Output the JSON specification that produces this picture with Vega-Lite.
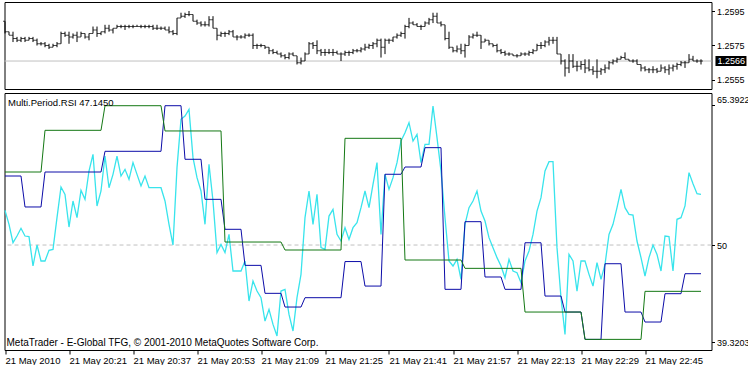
{
"$schema":"https://vega.github.io/schema/vega-lite/v6.json",
"padding":{"left":1.5,"top":1,"right":0,"bottom":0},
"background":"white",
"spacing":2,
"resolve":{"scale":{"x":"independent","y":"independent"}},
"config":{"view":{"stroke":"black","strokeWidth":1},"font":"Liberation Sans",
"axis":{"labelFont":"Liberation Sans","labelFontSize":9.5,"labelColor":"black","tickColor":"black","grid":false,"domain":false},
"text":{"font":"Liberation Sans","fontSize":9.5,"color":"black"}},
"data":{"values":[
{"time":"2010-05-21T20:05","open":1.2589,"high":1.2589,"low":1.2582,"close":1.2583,"rsi":53.82,"m5":57.60,"m15":58.04},
{"time":"2010-05-21T20:06","open":1.2583,"high":1.2583,"low":1.2581,"close":1.2581,"rsi":52.28,"m5":57.60,"m15":58.04},
{"time":"2010-05-21T20:07","open":1.2581,"high":1.2583,"low":1.2577,"close":1.2579,"rsi":50.26,"m5":57.60,"m15":58.04},
{"time":"2010-05-21T20:08","open":1.2579,"high":1.2580,"low":1.2577,"close":1.2578,"rsi":50.99,"m5":57.60,"m15":58.04},
{"time":"2010-05-21T20:09","open":1.2578,"high":1.2580,"low":1.2577,"close":1.2579,"rsi":51.84,"m5":57.60,"m15":58.04},
{"time":"2010-05-21T20:10","open":1.2579,"high":1.2580,"low":1.2577,"close":1.2578,"rsi":50.99,"m5":54.19,"m15":58.04},
{"time":"2010-05-21T20:11","open":1.2578,"high":1.2580,"low":1.2578,"close":1.2579,"rsi":50.92,"m5":54.19,"m15":58.04},
{"time":"2010-05-21T20:12","open":1.2579,"high":1.2580,"low":1.2577,"close":1.2578,"rsi":47.69,"m5":54.19,"m15":58.04},
{"time":"2010-05-21T20:13","open":1.2578,"high":1.2579,"low":1.2575,"close":1.2576,"rsi":50.00,"m5":54.19,"m15":58.04},
{"time":"2010-05-21T20:14","open":1.2576,"high":1.2577,"low":1.2575,"close":1.2576,"rsi":48.24,"m5":54.19,"m15":58.04},
{"time":"2010-05-21T20:15","open":1.2576,"high":1.2577,"low":1.2574,"close":1.2575,"rsi":48.24,"m5":58.04,"m15":62.63},
{"time":"2010-05-21T20:16","open":1.2575,"high":1.2576,"low":1.2573,"close":1.2574,"rsi":49.41,"m5":58.04,"m15":62.63},
{"time":"2010-05-21T20:17","open":1.2574,"high":1.2576,"low":1.2574,"close":1.2575,"rsi":49.52,"m5":58.04,"m15":62.63},
{"time":"2010-05-21T20:18","open":1.2575,"high":1.2577,"low":1.2574,"close":1.2576,"rsi":53.01,"m5":58.04,"m15":62.63},
{"time":"2010-05-21T20:19","open":1.2576,"high":1.2583,"low":1.2576,"close":1.2582,"rsi":56.39,"m5":58.04,"m15":62.63},
{"time":"2010-05-21T20:20","open":1.2582,"high":1.2583,"low":1.2580,"close":1.2581,"rsi":55.58,"m5":58.04,"m15":62.63},
{"time":"2010-05-21T20:21","open":1.2581,"high":1.2583,"low":1.2576,"close":1.2580,"rsi":51.98,"m5":58.04,"m15":62.63},
{"time":"2010-05-21T20:22","open":1.2580,"high":1.2582,"low":1.2579,"close":1.2581,"rsi":54.85,"m5":58.04,"m15":62.63},
{"time":"2010-05-21T20:23","open":1.2581,"high":1.2583,"low":1.2577,"close":1.2580,"rsi":53.01,"m5":58.04,"m15":62.63},
{"time":"2010-05-21T20:24","open":1.2580,"high":1.2583,"low":1.2580,"close":1.2582,"rsi":56.02,"m5":58.04,"m15":62.63},
{"time":"2010-05-21T20:25","open":1.2582,"high":1.2582,"low":1.2579,"close":1.2580,"rsi":55.03,"m5":58.04,"m15":62.63},
{"time":"2010-05-21T20:26","open":1.2580,"high":1.2582,"low":1.2578,"close":1.2582,"rsi":58.15,"m5":58.04,"m15":62.63},
{"time":"2010-05-21T20:27","open":1.2582,"high":1.2586,"low":1.2582,"close":1.2584,"rsi":59.99,"m5":58.04,"m15":62.63},
{"time":"2010-05-21T20:28","open":1.2584,"high":1.2586,"low":1.2580,"close":1.2582,"rsi":54.30,"m5":58.04,"m15":62.63},
{"time":"2010-05-21T20:29","open":1.2582,"high":1.2583,"low":1.2581,"close":1.2583,"rsi":55.95,"m5":58.04,"m15":62.63},
{"time":"2010-05-21T20:30","open":1.2583,"high":1.2587,"low":1.2582,"close":1.2585,"rsi":59.80,"m5":60.32,"m15":65.34},
{"time":"2010-05-21T20:31","open":1.2585,"high":1.2587,"low":1.2583,"close":1.2584,"rsi":56.31,"m5":60.32,"m15":65.34},
{"time":"2010-05-21T20:32","open":1.2584,"high":1.2585,"low":1.2582,"close":1.2585,"rsi":57.78,"m5":60.32,"m15":65.34},
{"time":"2010-05-21T20:33","open":1.2585,"high":1.2587,"low":1.2585,"close":1.2586,"rsi":59.80,"m5":60.32,"m15":65.34},
{"time":"2010-05-21T20:34","open":1.2586,"high":1.2587,"low":1.2585,"close":1.2586,"rsi":57.60,"m5":60.32,"m15":65.34},
{"time":"2010-05-21T20:35","open":1.2586,"high":1.2587,"low":1.2584,"close":1.2586,"rsi":58.33,"m5":60.32,"m15":65.34},
{"time":"2010-05-21T20:36","open":1.2586,"high":1.2587,"low":1.2585,"close":1.2586,"rsi":57.23,"m5":60.32,"m15":65.34},
{"time":"2010-05-21T20:37","open":1.2586,"high":1.2587,"low":1.2585,"close":1.2586,"rsi":59.07,"m5":60.32,"m15":65.34},
{"time":"2010-05-21T20:38","open":1.2586,"high":1.2587,"low":1.2586,"close":1.2586,"rsi":57.78,"m5":60.32,"m15":65.34},
{"time":"2010-05-21T20:39","open":1.2586,"high":1.2587,"low":1.2585,"close":1.2586,"rsi":56.50,"m5":60.32,"m15":65.34},
{"time":"2010-05-21T20:40","open":1.2586,"high":1.2587,"low":1.2585,"close":1.2586,"rsi":57.60,"m5":60.32,"m15":65.34},
{"time":"2010-05-21T20:41","open":1.2586,"high":1.2587,"low":1.2585,"close":1.2586,"rsi":56.31,"m5":60.32,"m15":65.34},
{"time":"2010-05-21T20:42","open":1.2586,"high":1.2587,"low":1.2584,"close":1.2585,"rsi":56.31,"m5":60.32,"m15":65.34},
{"time":"2010-05-21T20:43","open":1.2585,"high":1.2587,"low":1.2584,"close":1.2585,"rsi":56.31,"m5":60.32,"m15":65.34},
{"time":"2010-05-21T20:44","open":1.2585,"high":1.2586,"low":1.2584,"close":1.2585,"rsi":56.31,"m5":60.32,"m15":65.34},
{"time":"2010-05-21T20:45","open":1.2585,"high":1.2586,"low":1.2584,"close":1.2584,"rsi":54.85,"m5":65.34,"m15":62.56},
{"time":"2010-05-21T20:46","open":1.2584,"high":1.2586,"low":1.2582,"close":1.2583,"rsi":52.28,"m5":65.34,"m15":62.56},
{"time":"2010-05-21T20:47","open":1.2583,"high":1.2584,"low":1.2581,"close":1.2582,"rsi":50.00,"m5":65.34,"m15":62.56},
{"time":"2010-05-21T20:48","open":1.2582,"high":1.2591,"low":1.2581,"close":1.2591,"rsi":58.52,"m5":65.34,"m15":62.56},
{"time":"2010-05-21T20:49","open":1.2591,"high":1.2594,"low":1.2591,"close":1.2592,"rsi":63.84,"m5":65.34,"m15":62.56},
{"time":"2010-05-21T20:50","open":1.2592,"high":1.2594,"low":1.2591,"close":1.2593,"rsi":64.21,"m5":59.44,"m15":62.56},
{"time":"2010-05-21T20:51","open":1.2593,"high":1.2595,"low":1.2592,"close":1.2593,"rsi":64.94,"m5":59.44,"m15":62.56},
{"time":"2010-05-21T20:52","open":1.2593,"high":1.2593,"low":1.2589,"close":1.2589,"rsi":59.62,"m5":59.44,"m15":62.56},
{"time":"2010-05-21T20:53","open":1.2589,"high":1.2590,"low":1.2587,"close":1.2588,"rsi":57.42,"m5":59.44,"m15":62.56},
{"time":"2010-05-21T20:54","open":1.2588,"high":1.2589,"low":1.2586,"close":1.2587,"rsi":55.95,"m5":59.44,"m15":62.56},
{"time":"2010-05-21T20:55","open":1.2587,"high":1.2589,"low":1.2586,"close":1.2587,"rsi":52.28,"m5":55.03,"m15":62.56},
{"time":"2010-05-21T20:56","open":1.2587,"high":1.2592,"low":1.2586,"close":1.2590,"rsi":58.88,"m5":55.03,"m15":62.56},
{"time":"2010-05-21T20:57","open":1.2590,"high":1.2592,"low":1.2585,"close":1.2585,"rsi":54.85,"m5":55.03,"m15":62.56},
{"time":"2010-05-21T20:58","open":1.2585,"high":1.2585,"low":1.2578,"close":1.2581,"rsi":49.16,"m5":55.03,"m15":62.56},
{"time":"2010-05-21T20:59","open":1.2581,"high":1.2583,"low":1.2580,"close":1.2582,"rsi":50.07,"m5":55.03,"m15":62.56},
{"time":"2010-05-21T21:00","open":1.2582,"high":1.2583,"low":1.2580,"close":1.2582,"rsi":49.16,"m5":51.73,"m15":50.33},
{"time":"2010-05-21T21:01","open":1.2582,"high":1.2584,"low":1.2581,"close":1.2583,"rsi":51.17,"m5":51.73,"m15":50.33},
{"time":"2010-05-21T21:02","open":1.2583,"high":1.2584,"low":1.2580,"close":1.2580,"rsi":47.14,"m5":51.73,"m15":50.33},
{"time":"2010-05-21T21:03","open":1.2580,"high":1.2581,"low":1.2578,"close":1.2580,"rsi":47.14,"m5":51.73,"m15":50.33},
{"time":"2010-05-21T21:04","open":1.2580,"high":1.2581,"low":1.2579,"close":1.2580,"rsi":47.14,"m5":51.73,"m15":50.33},
{"time":"2010-05-21T21:05","open":1.2580,"high":1.2582,"low":1.2579,"close":1.2581,"rsi":48.24,"m5":47.76,"m15":50.33},
{"time":"2010-05-21T21:06","open":1.2581,"high":1.2582,"low":1.2580,"close":1.2581,"rsi":43.83,"m5":47.76,"m15":50.33},
{"time":"2010-05-21T21:07","open":1.2581,"high":1.2582,"low":1.2573,"close":1.2575,"rsi":46.04,"m5":47.76,"m15":50.33},
{"time":"2010-05-21T21:08","open":1.2575,"high":1.2576,"low":1.2573,"close":1.2575,"rsi":44.93,"m5":47.76,"m15":50.33},
{"time":"2010-05-21T21:09","open":1.2575,"high":1.2576,"low":1.2574,"close":1.2575,"rsi":44.20,"m5":47.76,"m15":50.33},
{"time":"2010-05-21T21:10","open":1.2575,"high":1.2575,"low":1.2573,"close":1.2574,"rsi":41.63,"m5":44.68,"m15":50.33},
{"time":"2010-05-21T21:11","open":1.2574,"high":1.2574,"low":1.2570,"close":1.2572,"rsi":42.91,"m5":44.68,"m15":50.33},
{"time":"2010-05-21T21:12","open":1.2572,"high":1.2573,"low":1.2570,"close":1.2571,"rsi":41.26,"m5":44.68,"m15":50.33},
{"time":"2010-05-21T21:13","open":1.2571,"high":1.2572,"low":1.2570,"close":1.2570,"rsi":39.98,"m5":44.68,"m15":50.33},
{"time":"2010-05-21T21:14","open":1.2570,"high":1.2571,"low":1.2568,"close":1.2569,"rsi":44.93,"m5":44.68,"m15":50.33},
{"time":"2010-05-21T21:15","open":1.2569,"high":1.2570,"low":1.2567,"close":1.2568,"rsi":45.12,"m5":43.17,"m15":49.45},
{"time":"2010-05-21T21:16","open":1.2568,"high":1.2571,"low":1.2567,"close":1.2570,"rsi":42.36,"m5":43.17,"m15":49.45},
{"time":"2010-05-21T21:17","open":1.2570,"high":1.2571,"low":1.2569,"close":1.2569,"rsi":40.53,"m5":43.17,"m15":49.45},
{"time":"2010-05-21T21:18","open":1.2569,"high":1.2569,"low":1.2564,"close":1.2565,"rsi":44.20,"m5":43.17,"m15":49.45},
{"time":"2010-05-21T21:19","open":1.2565,"high":1.2568,"low":1.2564,"close":1.2566,"rsi":46.77,"m5":43.17,"m15":49.45},
{"time":"2010-05-21T21:20","open":1.2566,"high":1.2571,"low":1.2566,"close":1.2570,"rsi":53.01,"m5":44.20,"m15":49.45},
{"time":"2010-05-21T21:21","open":1.2570,"high":1.2577,"low":1.2570,"close":1.2576,"rsi":55.95,"m5":44.20,"m15":49.45},
{"time":"2010-05-21T21:22","open":1.2576,"high":1.2577,"low":1.2573,"close":1.2575,"rsi":52.28,"m5":44.20,"m15":49.45},
{"time":"2010-05-21T21:23","open":1.2575,"high":1.2578,"low":1.2570,"close":1.2572,"rsi":55.58,"m5":44.20,"m15":49.45},
{"time":"2010-05-21T21:24","open":1.2572,"high":1.2573,"low":1.2569,"close":1.2571,"rsi":49.71,"m5":44.20,"m15":49.45},
{"time":"2010-05-21T21:25","open":1.2571,"high":1.2573,"low":1.2569,"close":1.2571,"rsi":49.52,"m5":44.20,"m15":49.45},
{"time":"2010-05-21T21:26","open":1.2571,"high":1.2573,"low":1.2570,"close":1.2571,"rsi":53.19,"m5":44.20,"m15":49.45},
{"time":"2010-05-21T21:27","open":1.2571,"high":1.2573,"low":1.2569,"close":1.2571,"rsi":53.93,"m5":44.20,"m15":49.45},
{"time":"2010-05-21T21:28","open":1.2571,"high":1.2572,"low":1.2570,"close":1.2570,"rsi":51.17,"m5":44.20,"m15":49.45},
{"time":"2010-05-21T21:29","open":1.2570,"high":1.2571,"low":1.2566,"close":1.2570,"rsi":50.44,"m5":44.20,"m15":49.45},
{"time":"2010-05-21T21:30","open":1.2570,"high":1.2572,"low":1.2569,"close":1.2571,"rsi":51.91,"m5":48.18,"m15":61.75},
{"time":"2010-05-21T21:31","open":1.2571,"high":1.2572,"low":1.2569,"close":1.2571,"rsi":50.62,"m5":48.18,"m15":61.75},
{"time":"2010-05-21T21:32","open":1.2571,"high":1.2573,"low":1.2570,"close":1.2572,"rsi":51.91,"m5":48.18,"m15":61.75},
{"time":"2010-05-21T21:33","open":1.2572,"high":1.2573,"low":1.2571,"close":1.2572,"rsi":52.46,"m5":48.18,"m15":61.75},
{"time":"2010-05-21T21:34","open":1.2572,"high":1.2574,"low":1.2571,"close":1.2573,"rsi":54.11,"m5":48.18,"m15":61.75},
{"time":"2010-05-21T21:35","open":1.2573,"high":1.2576,"low":1.2572,"close":1.2574,"rsi":55.95,"m5":45.48,"m15":61.75},
{"time":"2010-05-21T21:36","open":1.2574,"high":1.2576,"low":1.2573,"close":1.2575,"rsi":54.11,"m5":45.48,"m15":61.75},
{"time":"2010-05-21T21:37","open":1.2575,"high":1.2577,"low":1.2573,"close":1.2576,"rsi":56.68,"m5":45.48,"m15":61.75},
{"time":"2010-05-21T21:38","open":1.2576,"high":1.2579,"low":1.2574,"close":1.2578,"rsi":59.07,"m5":45.48,"m15":61.75},
{"time":"2010-05-21T21:39","open":1.2578,"high":1.2579,"low":1.2568,"close":1.2574,"rsi":51.17,"m5":45.48,"m15":61.75},
{"time":"2010-05-21T21:40","open":1.2574,"high":1.2579,"low":1.2570,"close":1.2578,"rsi":57.78,"m5":57.79,"m15":61.75},
{"time":"2010-05-21T21:41","open":1.2578,"high":1.2579,"low":1.2576,"close":1.2578,"rsi":56.13,"m5":57.79,"m15":61.75},
{"time":"2010-05-21T21:42","open":1.2578,"high":1.2580,"low":1.2577,"close":1.2580,"rsi":57.42,"m5":57.79,"m15":61.75},
{"time":"2010-05-21T21:43","open":1.2580,"high":1.2582,"low":1.2579,"close":1.2581,"rsi":59.07,"m5":57.79,"m15":61.75},
{"time":"2010-05-21T21:44","open":1.2581,"high":1.2583,"low":1.2580,"close":1.2582,"rsi":61.45,"m5":57.79,"m15":61.75},
{"time":"2010-05-21T21:45","open":1.2582,"high":1.2587,"low":1.2579,"close":1.2586,"rsi":62.37,"m5":58.59,"m15":48.35},
{"time":"2010-05-21T21:46","open":1.2586,"high":1.2591,"low":1.2585,"close":1.2588,"rsi":63.47,"m5":58.59,"m15":48.35},
{"time":"2010-05-21T21:47","open":1.2588,"high":1.2589,"low":1.2587,"close":1.2587,"rsi":61.45,"m5":58.59,"m15":48.35},
{"time":"2010-05-21T21:48","open":1.2587,"high":1.2588,"low":1.2586,"close":1.2586,"rsi":62.19,"m5":58.59,"m15":48.35},
{"time":"2010-05-21T21:49","open":1.2586,"high":1.2587,"low":1.2584,"close":1.2586,"rsi":59.07,"m5":58.59,"m15":48.35},
{"time":"2010-05-21T21:50","open":1.2586,"high":1.2589,"low":1.2586,"close":1.2588,"rsi":61.09,"m5":60.72,"m15":48.35},
{"time":"2010-05-21T21:51","open":1.2588,"high":1.2591,"low":1.2587,"close":1.2590,"rsi":61.09,"m5":60.72,"m15":48.35},
{"time":"2010-05-21T21:52","open":1.2590,"high":1.2594,"low":1.2588,"close":1.2592,"rsi":65.31,"m5":60.72,"m15":48.35},
{"time":"2010-05-21T21:53","open":1.2592,"high":1.2594,"low":1.2588,"close":1.2588,"rsi":61.82,"m5":60.72,"m15":48.35},
{"time":"2010-05-21T21:54","open":1.2588,"high":1.2589,"low":1.2586,"close":1.2587,"rsi":58.15,"m5":60.72,"m15":48.35},
{"time":"2010-05-21T21:55","open":1.2587,"high":1.2587,"low":1.2578,"close":1.2579,"rsi":53.01,"m5":45.12,"m15":48.35},
{"time":"2010-05-21T21:56","open":1.2579,"high":1.2583,"low":1.2573,"close":1.2574,"rsi":48.24,"m5":45.12,"m15":48.35},
{"time":"2010-05-21T21:57","open":1.2574,"high":1.2574,"low":1.2571,"close":1.2572,"rsi":47.69,"m5":45.12,"m15":48.35},
{"time":"2010-05-21T21:58","open":1.2572,"high":1.2575,"low":1.2571,"close":1.2573,"rsi":48.42,"m5":45.12,"m15":48.35},
{"time":"2010-05-21T21:59","open":1.2573,"high":1.2576,"low":1.2570,"close":1.2572,"rsi":46.22,"m5":45.12,"m15":48.35},
{"time":"2010-05-21T22:00","open":1.2572,"high":1.2576,"low":1.2568,"close":1.2575,"rsi":52.28,"m5":52.57,"m15":47.43},
{"time":"2010-05-21T22:01","open":1.2575,"high":1.2581,"low":1.2575,"close":1.2580,"rsi":54.11,"m5":52.57,"m15":47.43},
{"time":"2010-05-21T22:02","open":1.2580,"high":1.2582,"low":1.2579,"close":1.2581,"rsi":54.85,"m5":52.57,"m15":47.43},
{"time":"2010-05-21T22:03","open":1.2581,"high":1.2583,"low":1.2580,"close":1.2581,"rsi":55.95,"m5":52.57,"m15":47.43},
{"time":"2010-05-21T22:04","open":1.2581,"high":1.2581,"low":1.2573,"close":1.2577,"rsi":53.74,"m5":52.57,"m15":47.43},
{"time":"2010-05-21T22:05","open":1.2577,"high":1.2579,"low":1.2577,"close":1.2578,"rsi":52.64,"m5":46.48,"m15":47.43},
{"time":"2010-05-21T22:06","open":1.2578,"high":1.2578,"low":1.2575,"close":1.2576,"rsi":50.81,"m5":46.48,"m15":47.43},
{"time":"2010-05-21T22:07","open":1.2576,"high":1.2576,"low":1.2574,"close":1.2575,"rsi":49.71,"m5":46.48,"m15":47.43},
{"time":"2010-05-21T22:08","open":1.2575,"high":1.2576,"low":1.2571,"close":1.2572,"rsi":48.61,"m5":46.48,"m15":47.43},
{"time":"2010-05-21T22:09","open":1.2572,"high":1.2573,"low":1.2570,"close":1.2571,"rsi":47.69,"m5":46.48,"m15":47.43},
{"time":"2010-05-21T22:10","open":1.2571,"high":1.2572,"low":1.2569,"close":1.2570,"rsi":46.40,"m5":45.12,"m15":47.43},
{"time":"2010-05-21T22:11","open":1.2570,"high":1.2571,"low":1.2569,"close":1.2570,"rsi":48.42,"m5":45.12,"m15":47.43},
{"time":"2010-05-21T22:12","open":1.2570,"high":1.2570,"low":1.2569,"close":1.2569,"rsi":47.14,"m5":45.12,"m15":47.43},
{"time":"2010-05-21T22:13","open":1.2569,"high":1.2570,"low":1.2568,"close":1.2569,"rsi":46.95,"m5":45.12,"m15":47.43},
{"time":"2010-05-21T22:14","open":1.2569,"high":1.2571,"low":1.2569,"close":1.2570,"rsi":45.85,"m5":45.12,"m15":47.43},
{"time":"2010-05-21T22:15","open":1.2570,"high":1.2571,"low":1.2569,"close":1.2570,"rsi":48.24,"m5":50.25,"m15":42.62},
{"time":"2010-05-21T22:16","open":1.2570,"high":1.2572,"low":1.2569,"close":1.2571,"rsi":49.34,"m5":50.25,"m15":42.62},
{"time":"2010-05-21T22:17","open":1.2571,"high":1.2573,"low":1.2570,"close":1.2572,"rsi":51.17,"m5":50.25,"m15":42.62},
{"time":"2010-05-21T22:18","open":1.2572,"high":1.2576,"low":1.2572,"close":1.2575,"rsi":53.74,"m5":50.25,"m15":42.62},
{"time":"2010-05-21T22:19","open":1.2575,"high":1.2577,"low":1.2573,"close":1.2575,"rsi":55.21,"m5":50.25,"m15":42.62},
{"time":"2010-05-21T22:20","open":1.2575,"high":1.2578,"low":1.2574,"close":1.2577,"rsi":58.15,"m5":44.38,"m15":42.62},
{"time":"2010-05-21T22:21","open":1.2577,"high":1.2580,"low":1.2575,"close":1.2578,"rsi":59.18,"m5":44.38,"m15":42.62},
{"time":"2010-05-21T22:22","open":1.2578,"high":1.2580,"low":1.2576,"close":1.2578,"rsi":59.18,"m5":44.38,"m15":42.62},
{"time":"2010-05-21T22:23","open":1.2578,"high":1.2580,"low":1.2570,"close":1.2570,"rsi":49.71,"m5":44.38,"m15":42.62},
{"time":"2010-05-21T22:24","open":1.2570,"high":1.2570,"low":1.2564,"close":1.2566,"rsi":44.20,"m5":44.38,"m15":42.62},
{"time":"2010-05-21T22:25","open":1.2566,"high":1.2567,"low":1.2557,"close":1.2562,"rsi":40.16,"m5":42.62,"m15":42.62},
{"time":"2010-05-21T22:26","open":1.2562,"high":1.2570,"low":1.2559,"close":1.2566,"rsi":48.97,"m5":42.62,"m15":42.62},
{"time":"2010-05-21T22:27","open":1.2566,"high":1.2570,"low":1.2562,"close":1.2563,"rsi":48.24,"m5":42.62,"m15":42.62},
{"time":"2010-05-21T22:28","open":1.2563,"high":1.2566,"low":1.2560,"close":1.2563,"rsi":44.93,"m5":42.62,"m15":42.62},
{"time":"2010-05-21T22:29","open":1.2563,"high":1.2566,"low":1.2561,"close":1.2564,"rsi":48.24,"m5":42.62,"m15":42.62},
{"time":"2010-05-21T22:30","open":1.2564,"high":1.2567,"low":1.2559,"close":1.2562,"rsi":48.24,"m5":39.61,"m15":39.61},
{"time":"2010-05-21T22:31","open":1.2562,"high":1.2567,"low":1.2560,"close":1.2561,"rsi":46.77,"m5":39.61,"m15":39.61},
{"time":"2010-05-21T22:32","open":1.2561,"high":1.2563,"low":1.2558,"close":1.2560,"rsi":45.48,"m5":39.61,"m15":39.61},
{"time":"2010-05-21T22:33","open":1.2560,"high":1.2567,"low":1.2556,"close":1.2560,"rsi":48.05,"m5":39.61,"m15":39.61},
{"time":"2010-05-21T22:34","open":1.2560,"high":1.2562,"low":1.2558,"close":1.2561,"rsi":46.22,"m5":39.61,"m15":39.61},
{"time":"2010-05-21T22:35","open":1.2561,"high":1.2564,"low":1.2559,"close":1.2562,"rsi":47.87,"m5":47.94,"m15":39.61},
{"time":"2010-05-21T22:36","open":1.2562,"high":1.2566,"low":1.2561,"close":1.2565,"rsi":51.17,"m5":47.94,"m15":39.61},
{"time":"2010-05-21T22:37","open":1.2565,"high":1.2567,"low":1.2564,"close":1.2566,"rsi":52.28,"m5":47.94,"m15":39.61},
{"time":"2010-05-21T22:38","open":1.2566,"high":1.2568,"low":1.2565,"close":1.2567,"rsi":54.11,"m5":47.94,"m15":39.61},
{"time":"2010-05-21T22:39","open":1.2567,"high":1.2569,"low":1.2567,"close":1.2568,"rsi":56.13,"m5":47.94,"m15":39.61},
{"time":"2010-05-21T22:40","open":1.2568,"high":1.2571,"low":1.2567,"close":1.2567,"rsi":54.11,"m5":42.62,"m15":39.61},
{"time":"2010-05-21T22:41","open":1.2567,"high":1.2567,"low":1.2566,"close":1.2566,"rsi":53.38,"m5":42.62,"m15":39.61},
{"time":"2010-05-21T22:42","open":1.2566,"high":1.2567,"low":1.2565,"close":1.2566,"rsi":53.30,"m5":42.62,"m15":39.61},
{"time":"2010-05-21T22:43","open":1.2566,"high":1.2567,"low":1.2564,"close":1.2564,"rsi":50.44,"m5":42.62,"m15":39.61},
{"time":"2010-05-21T22:44","open":1.2564,"high":1.2564,"low":1.2560,"close":1.2562,"rsi":48.61,"m5":42.62,"m15":39.61},
{"time":"2010-05-21T22:45","open":1.2562,"high":1.2563,"low":1.2560,"close":1.2561,"rsi":46.59,"m5":41.52,"m15":44.90},
{"time":"2010-05-21T22:46","open":1.2561,"high":1.2562,"low":1.2559,"close":1.2561,"rsi":48.61,"m5":41.52,"m15":44.90},
{"time":"2010-05-21T22:47","open":1.2561,"high":1.2563,"low":1.2559,"close":1.2561,"rsi":50.00,"m5":41.52,"m15":44.90},
{"time":"2010-05-21T22:48","open":1.2561,"high":1.2562,"low":1.2559,"close":1.2560,"rsi":48.97,"m5":41.52,"m15":44.90},
{"time":"2010-05-21T22:49","open":1.2560,"high":1.2564,"low":1.2560,"close":1.2562,"rsi":47.14,"m5":41.52,"m15":44.90},
{"time":"2010-05-21T22:50","open":1.2562,"high":1.2563,"low":1.2559,"close":1.2561,"rsi":50.99,"m5":44.64,"m15":44.90},
{"time":"2010-05-21T22:51","open":1.2561,"high":1.2564,"low":1.2558,"close":1.2562,"rsi":50.92,"m5":44.64,"m15":44.90},
{"time":"2010-05-21T22:52","open":1.2562,"high":1.2564,"low":1.2560,"close":1.2563,"rsi":47.14,"m5":44.64,"m15":44.90},
{"time":"2010-05-21T22:53","open":1.2563,"high":1.2565,"low":1.2561,"close":1.2564,"rsi":52.83,"m5":44.64,"m15":44.90},
{"time":"2010-05-21T22:54","open":1.2564,"high":1.2566,"low":1.2563,"close":1.2565,"rsi":53.01,"m5":44.64,"m15":44.90},
{"time":"2010-05-21T22:55","open":1.2565,"high":1.2566,"low":1.2562,"close":1.2565,"rsi":54.30,"m5":46.84,"m15":44.90},
{"time":"2010-05-21T22:56","open":1.2565,"high":1.2570,"low":1.2565,"close":1.2567,"rsi":57.97,"m5":46.84,"m15":44.90},
{"time":"2010-05-21T22:57","open":1.2567,"high":1.2569,"low":1.2566,"close":1.2566,"rsi":56.75,"m5":46.84,"m15":44.90},
{"time":"2010-05-21T22:58","open":1.2566,"high":1.2567,"low":1.2565,"close":1.2566,"rsi":55.65,"m5":46.84,"m15":44.90},
{"time":"2010-05-21T22:59","open":1.2566,"high":1.2567,"low":1.2564,"close":1.2566,"rsi":55.58,"m5":46.84,"m15":44.90}
]},
"vconcat":[
{"width":707,"height":87,
"encoding":{
"x":{"field":"time","type":"temporal","axis":null,"scale":{"domain":[{"year":2010,"month":5,"date":21,"hours":20,"minutes":4,"seconds":52,"milliseconds":500},{"year":2010,"month":5,"date":21,"hours":23,"minutes":1,"seconds":37,"milliseconds":500}]}}
},
"layer":[
{"data":{"values":[{}]},"mark":{"type":"rule","color":"#c0c0c0","strokeWidth":1},"encoding":{"x":null,"y":{"datum":1.2566,"type":"quantitative"}}},
{"mark":{"type":"rule","color":"black","strokeWidth":1},
 "encoding":{"y":{"field":"low","type":"quantitative","title":null,"scale":{"domain":[1.254978,1.260022],"zero":false,"nice":false},
   "axis":{"orient":"right","values":[1.2555,1.2575,1.2595],"format":".4f","tickSize":3,"labelPadding":2,"labelFontSize":9}},
 "y2":{"field":"high"}}},
{"mark":{"type":"tick","orient":"horizontal","size":2,"thickness":1,"xOffset":-1,"color":"black"},"encoding":{"y":{"field":"open","type":"quantitative"}}},
{"mark":{"type":"tick","orient":"horizontal","size":2,"thickness":1,"xOffset":1,"color":"black"},"encoding":{"y":{"field":"close","type":"quantitative"}}},
{"transform":[{"window":[{"op":"row_number","as":"rn"}]},{"filter":"datum.rn == 1"}],
 "mark":{"type":"rect","color":"black"},"encoding":{
 "x":{"datum":{"year":2010,"month":5,"date":21,"hours":23,"minutes":2,"seconds":37},"type":"temporal"},
 "x2":{"datum":{"year":2010,"month":5,"date":21,"hours":23,"minutes":10,"seconds":22}},
 "y":{"datum":1.25689,"type":"quantitative"},"y2":{"datum":1.25631}}},
{"transform":[{"window":[{"op":"row_number","as":"rn"}]},{"filter":"datum.rn == 1"}],
 "mark":{"type":"text","align":"left","baseline":"middle","dx":2,"fontSize":9,"color":"white","text":"1.2566"},"encoding":{
 "x":{"datum":{"year":2010,"month":5,"date":21,"hours":23,"minutes":2,"seconds":37},"type":"temporal"},
 "y":{"datum":1.2566,"type":"quantitative"}}}
]},
{"width":707,"height":257,
"encoding":{
"x":{"field":"time","type":"temporal","title":null,"scale":{"domain":[{"year":2010,"month":5,"date":21,"hours":20,"minutes":4,"seconds":52,"milliseconds":500},{"year":2010,"month":5,"date":21,"hours":23,"minutes":1,"seconds":37,"milliseconds":500}]},
 "axis":{"values":[
 {"year":2010,"month":5,"date":21,"hours":20,"minutes":5},
 {"year":2010,"month":5,"date":21,"hours":20,"minutes":21},
 {"year":2010,"month":5,"date":21,"hours":20,"minutes":37},
 {"year":2010,"month":5,"date":21,"hours":20,"minutes":53},
 {"year":2010,"month":5,"date":21,"hours":21,"minutes":9},
 {"year":2010,"month":5,"date":21,"hours":21,"minutes":25},
 {"year":2010,"month":5,"date":21,"hours":21,"minutes":41},
 {"year":2010,"month":5,"date":21,"hours":21,"minutes":57},
 {"year":2010,"month":5,"date":21,"hours":22,"minutes":13},
 {"year":2010,"month":5,"date":21,"hours":22,"minutes":29},
 {"year":2010,"month":5,"date":21,"hours":22,"minutes":45}],
 "labelExpr":"timeFormat(datum.value,'%H:%M')=='20:05' ? '21 May 2010' : timeFormat(datum.value,'%d %b %H:%M')",
 "labelAlign":"left","labelPadding":1,"tickSize":4,"labelFlush":false,"labelOverlap":false}}
},
"layer":[
{"data":{"values":[{}]},"mark":{"type":"rule","color":"#c0c0c0","strokeDash":[4,3],"strokeWidth":1},"encoding":{"x":null,"y":{"datum":50,"type":"quantitative"}}},
{"mark":{"type":"line","color":"#38e4ec","strokeWidth":1.3,"interpolate":"linear"},
 "encoding":{"y":{"field":"rsi","type":"quantitative","title":null,"scale":{"domain":[38.44,66.74],"zero":false,"nice":false},
  "axis":{"orient":"right","values":[39.3203,50,65.3922],"format":".4~f","tickSize":3,"labelPadding":2,"labelFontSize":9,
  "labelOffset":{"condition":{"test":"datum.value > 60","value":-6},"value":0}}}}},
{"mark":{"type":"line","color":"#0c0ca8","strokeWidth":1},"encoding":{"y":{"field":"m5","type":"quantitative"}}},
{"mark":{"type":"line","color":"#147814","strokeWidth":1},"encoding":{"y":{"field":"m15","type":"quantitative"}}},
{"transform":[{"window":[{"op":"row_number","as":"rn"}]},{"filter":"datum.rn == 1"}],
 "mark":{"type":"text","align":"left","baseline":"middle","dx":3,"fontSize":9.5,"text":"Multi.Period.RSI 47.1450"},"encoding":{
 "x":{"datum":{"year":2010,"month":5,"date":21,"hours":20,"minutes":5},"type":"temporal"},"y":{"datum":65.67,"type":"quantitative"}}},
{"transform":[{"window":[{"op":"row_number","as":"rn"}]},{"filter":"datum.rn == 1"}],
 "mark":{"type":"text","align":"left","baseline":"middle","dx":1.5,"fontSize":10,"text":"MetaTrader - E-Global TFG, © 2001-2010 MetaQuotes Software Corp."},"encoding":{
 "x":{"datum":{"year":2010,"month":5,"date":21,"hours":20,"minutes":5},"type":"temporal"},"y":{"datum":39.26,"type":"quantitative"}}}
]}
]
}
